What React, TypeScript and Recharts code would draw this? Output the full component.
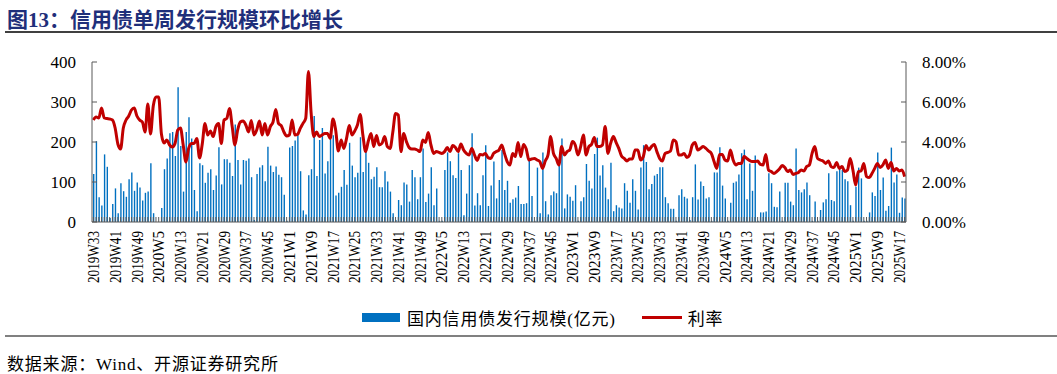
import React from 'react';
import { ComposedChart, Bar, Line, XAxis, YAxis } from 'recharts';

// weekly issuance (亿元), 2019W33 .. 2025W19
const ISSUANCE = [
  120, 202, 62, 41, 169, 138, 10, 45, 84, 22,
  97, 77, 63, 107, 124, 78, 99, 86, 54, 73,
  76, 147, 22, 0, 0, 35, 132, 159, 222, 225,
  165, 337, 190, 76, 225, 262, 209, 80, 27, 147,
  142, 98, 123, 132, 80, 116, 187, 94, 157, 157,
  148, 115, 244, 155, 94, 155, 153, 159, 112, 5,
  120, 136, 142, 102, 188, 141, 125, 139, 118, 112,
  68, 3, 186, 190, 204, 217, 127, 29, 19, 117,
  132, 265, 115, 205, 235, 121, 152, 228, 217, 66,
  73, 88, 130, 93, 198, 141, 112, 123, 212, 125,
  176, 148, 107, 113, 137, 87, 87, 127, 101, 76,
  22, 5, 55, 42, 99, 94, 51, 130, 112, 57,
  112, 184, 50, 71, 137, 42, 84, 3, 3, 130,
  174, 152, 117, 110, 172, 130, 17, 71, 142, 222,
  41, 72, 42, 117, 192, 40, 91, 151, 59, 105,
  180, 80, 103, 48, 57, 61, 90, 45, 45, 47,
  157, 65, 3, 136, 22, 174, 52, 19, 67, 76,
  72, 142, 209, 34, 69, 63, 53, 92, 3, 52,
  62, 145, 103, 84, 170, 211, 116, 142, 86, 57,
  148, 27, 42, 36, 34, 97, 78, 48, 107, 78,
  31, 136, 192, 150, 82, 95, 116, 120, 137, 137,
  62, 47, 33, 33, 3, 67, 82, 63, 59, 5,
  62, 144, 56, 101, 90, 59, 62, 3, 124, 124,
  187, 91, 59, 3, 48, 98, 101, 119, 172, 181,
  57, 146, 78, 166, 3, 24, 24, 26, 122, 97,
  38, 37, 76, 3, 98, 98, 51, 42, 184, 80,
  74, 82, 99, 67, 3, 51, 3, 30, 49, 57,
  122, 55, 52, 127, 138, 130, 107, 102, 42, 3,
  88, 136, 109, 3, 3, 24, 74, 65, 174, 80,
  111, 28, 40, 186, 99, 119, 23, 61, 59,
];

// 利率 (%)
const RATE = [
  5.1, 5.25, 5.2, 5.7, 5.2, 5.17, 5.15, 5.1, 4.7, 3.9,
  3.65, 4.7, 5.1, 5.3, 5.6, 5.7, 5.3, 5.1, 5.0, 4.5,
  5.9, 4.4, 5.8, 6.25, 6.25, 4.4, 3.95, 4.1, 3.85, 3.75,
  3.93, 4.6, 4.7, 3.85, 3.0, 3.68, 3.93, 3.93, 4.18, 3.2,
  3.9, 4.93, 4.35, 4.55, 4.27, 4.77, 4.93, 3.93, 5.1, 5.18,
  5.68, 4.77, 3.85, 4.6, 5.0, 5.05, 4.85, 4.5, 5.07, 4.35,
  4.6, 5.05, 4.35, 4.93, 4.35, 4.77, 5.0, 5.63, 4.93, 4.82,
  4.5, 4.3, 4.35, 5.1, 4.35, 4.38, 4.68, 4.93, 5.18, 7.52,
  5.43, 4.27, 4.5, 4.27, 4.35, 4.43, 4.42, 4.18, 5.15, 4.6,
  3.55, 4.1, 3.68, 4.18, 4.82, 4.35, 4.55, 4.85, 5.38, 4.35,
  3.52, 4.05, 4.43, 3.77, 4.32, 3.85, 3.93, 4.27, 3.77, 3.68,
  4.5, 5.43, 5.35, 3.52, 4.43, 4.02, 3.72, 3.65, 3.65, 3.6,
  3.52, 4.1, 3.98, 4.48, 3.85, 3.43, 3.52, 3.48, 3.43, 3.52,
  3.72, 3.52, 3.82, 3.72, 3.52, 3.9, 3.6, 3.43, 3.35, 3.68,
  3.35, 3.08, 3.38, 3.35, 3.43, 3.22, 3.18, 3.43, 3.52, 3.6,
  3.85, 3.43, 3.02, 2.85, 3.43, 3.27, 3.98, 3.27, 3.88, 3.65,
  3.1, 3.15, 3.18, 3.1, 3.02, 2.68, 3.05, 3.35, 4.27, 3.43,
  3.18, 2.85, 3.77, 3.35, 3.52, 3.6, 4.02, 3.85, 3.35, 3.77,
  4.35, 3.35, 3.77, 3.88, 4.22, 3.77, 3.77, 3.85, 4.77, 3.43,
  3.93, 4.27, 3.98, 3.68, 3.3, 3.18, 3.05, 3.15, 3.15, 3.6,
  3.6, 3.1, 3.27, 3.82, 3.6, 3.77, 3.88, 3.52, 3.18, 3.05,
  3.43, 3.48, 3.55, 4.1, 4.02, 3.35, 3.35, 3.43, 3.22, 3.35,
  3.85, 3.98, 3.6, 3.68, 3.77, 3.68, 3.55, 3.43, 3.02, 2.68,
  3.38, 3.38, 3.1, 3.05, 3.6, 3.1, 2.85, 2.93, 2.93, 3.27,
  3.18, 3.08, 3.02, 3.02, 3.05, 2.88, 2.85, 3.38, 2.6, 2.52,
  2.43, 2.52, 2.65, 2.82, 2.72, 2.52, 2.6, 2.38, 2.43, 2.48,
  2.6, 2.55, 2.77, 2.85, 3.43, 3.77, 3.18, 3.1, 3.05, 2.93,
  3.05, 2.77, 2.72, 2.98, 2.68, 2.77, 2.52, 2.6, 3.18, 2.6,
  1.85, 2.52, 2.55, 2.93, 2.27, 2.22, 2.43, 2.68, 2.93, 2.72,
  2.85, 3.1, 2.68, 2.98, 2.55, 2.68, 2.55, 2.6, 2.27,
];

const LEFT_TICKS = [0, 50, 100, 150, 200, 250, 300, 350, 400];
const RIGHT_TICKS = [0, 1, 2, 3, 4, 5, 6, 7, 8];

// week labels: 2019W33 onwards, 52 weeks per year as in the source
const START_YEAR = 2019;
const START_WEEK = 33;
const weekLabel = (i: number) => {
  const n = START_WEEK - 1 + i;
  return `${START_YEAR + Math.floor(n / 52)}W${(n % 52) + 1}`;
};

const data = ISSUANCE.map((v, i) => ({ week: weekLabel(i), issuance: v, rate: RATE[i] }));

const FONT = "'Liberation Serif', 'Times New Roman', 'Noto Sans CJK SC', serif";
const AXIS = '#595959';
const BLUE = '#0070C0';
const RED = '#C00000';

const WeekTick = ({ x, y, payload, index }: any) => (
  <g>
    <line x1={x} y1={y} x2={x} y2={y - 5} stroke={AXIS} strokeWidth={1} />
    {index % 8 === 0 && (
      <text
        x={x}
        y={y + 9}
        dy="0.35em"
        transform={`rotate(-90, ${x}, ${y + 9})`}
        textAnchor="end"
        fontSize={16}
        fontFamily={FONT}
        fill="#000"
        textLength={52}
        lengthAdjust="spacingAndGlyphs"
      >
        {payload.value}
      </text>
    )}
  </g>
);

const LeftTick = ({ x, y, payload }: any) => (
  <g>
    <line x1={x} y1={y} x2={x + 5} y2={y} stroke={AXIS} />
    <text x={x - 16} y={y} dy="0.35em" textAnchor="end" fontSize={17} fontFamily={FONT} fill="#000">
      {payload.value}
    </text>
  </g>
);

const RightTick = ({ x, y, payload }: any) => (
  <g>
    <line x1={x} y1={y} x2={x - 5} y2={y} stroke={AXIS} />
    <text x={x + 16} y={y} dy="0.35em" textAnchor="start" fontSize={17} fontFamily={FONT} fill="#000">
      {`${payload.value.toFixed(2)}%`}
    </text>
  </g>
);

export default function App() {
  return (
    <div style={{ position: 'absolute', left: 0, top: 0, width: 1057, height: 374, background: '#fff', fontFamily: FONT }}>
      <div style={{ position: 'absolute', left: 7, top: 3, fontSize: 21, fontWeight: 'bold', color: '#1F2F7A', whiteSpace: 'nowrap' }}>
        图13：信用债单周发行规模环比增长
      </div>
      <div style={{ position: 'absolute', left: 5, right: 0, top: 31, height: 2, background: '#404040' }} />

      <div style={{ position: 'absolute', left: 0, top: 0 }}>
        <ComposedChart
          width={1057}
          height={300}
          data={data}
          margin={{ top: 62, right: 71, left: 0, bottom: 0 }}
          barCategoryGap={0}
        >
          <XAxis
            dataKey="week"
            interval={0}
            height={78}
            tickSize={0}
            tickMargin={0}
            tickLine={false}
            tick={<WeekTick />}
            axisLine={{ stroke: AXIS, strokeWidth: 1 }}
          />
          <YAxis
            yAxisId="left"
            domain={[0, 400]}
            ticks={LEFT_TICKS}
            width={92}
            tickSize={0}
            tickMargin={0}
            tickLine={false}
            tick={<LeftTick />}
            axisLine={{ stroke: AXIS }}
          />
          <YAxis
            yAxisId="right"
            orientation="right"
            domain={[0, 8]}
            ticks={RIGHT_TICKS}
            width={80}
            tickSize={0}
            tickMargin={0}
            tickLine={false}
            tick={<RightTick />}
            axisLine={{ stroke: AXIS }}
          />
          <Bar yAxisId="left" dataKey="issuance" fill={BLUE} barSize={1.4} isAnimationActive={false} />
          <Line
            yAxisId="right"
            type="monotone"
            dataKey="rate"
            stroke={RED}
            strokeWidth={3}
            dot={false}
            isAnimationActive={false}
          />
        </ComposedChart>
      </div>

      <div style={{ position: 'absolute', left: 362, top: 305, display: 'flex', alignItems: 'center', fontSize: 17, letterSpacing: 0.8, whiteSpace: 'nowrap' }}>
        <span style={{ display: 'inline-block', width: 38, height: 9, background: BLUE, marginRight: 7 }} />
        <span>国内信用债发行规模(亿元)</span>
        <span style={{ display: 'inline-block', width: 40, height: 3, background: RED, marginLeft: 26, marginRight: 6 }} />
        <span>利率</span>
      </div>

      <div style={{ position: 'absolute', left: 5, right: 0, top: 335, height: 2, background: '#808080' }} />
      <div style={{ position: 'absolute', left: 7, top: 350, fontSize: 17, letterSpacing: 0.8, whiteSpace: 'nowrap' }}>
        数据来源：Wind、开源证券研究所
      </div>
    </div>
  );
}
